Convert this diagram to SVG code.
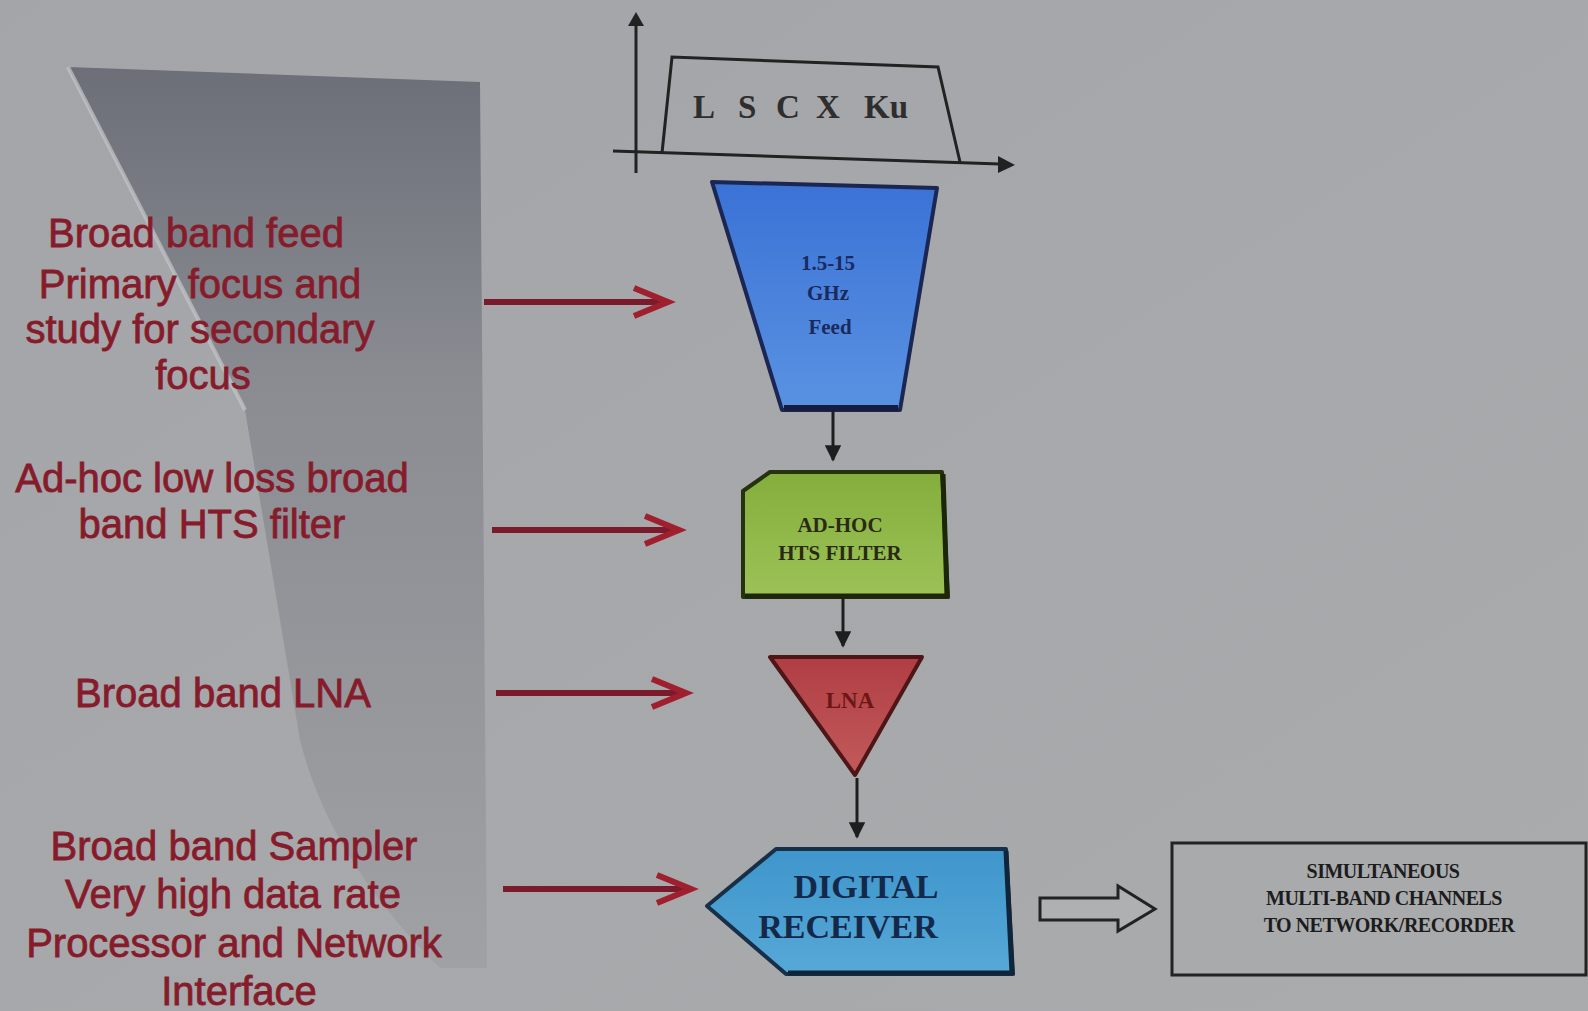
<svg xmlns="http://www.w3.org/2000/svg" width="1588" height="1011" viewBox="0 0 1588 1011">
<style>
.lbl{font-family:"Liberation Sans",Arial,sans-serif;font-size:40px;fill:#861c2b;stroke:#861c2b;stroke-width:0.8;text-anchor:middle}
.nt{font-family:"Liberation Serif","Times New Roman",serif;font-weight:bold;text-anchor:middle}
.ax{stroke:#222;stroke-width:3;fill:none}
.red{stroke:#7a1a2a;stroke-width:6;fill:none}
.redh{stroke:#a01f2e;stroke-width:6;fill:none;stroke-linejoin:miter}
.blk{stroke:#1e1e1e;stroke-width:3;fill:none}
</style>
<defs>
<linearGradient id="bg" x1="0" y1="0" x2="1" y2="1">
<stop offset="0" stop-color="#a4a5a8"/><stop offset="1" stop-color="#aaabad"/>
</linearGradient>
<linearGradient id="panel" x1="0" y1="0" x2="0" y2="1">
<stop offset="0" stop-color="#6c6f78"/><stop offset="0.35" stop-color="#8a8c92"/><stop offset="1" stop-color="#a0a1a4"/>
</linearGradient>
<linearGradient id="gFeed" x1="0" y1="0" x2="0" y2="1">
<stop offset="0" stop-color="#3a72d6"/><stop offset="1" stop-color="#5a92e2"/>
</linearGradient>
<linearGradient id="gFilt" x1="0" y1="0" x2="0" y2="1">
<stop offset="0" stop-color="#84ae3c"/><stop offset="1" stop-color="#9cc257"/>
</linearGradient>
<linearGradient id="gLna" x1="0" y1="0" x2="0" y2="1">
<stop offset="0" stop-color="#b03e44"/><stop offset="1" stop-color="#c25a5a"/>
</linearGradient>
<linearGradient id="gDr" x1="0" y1="0" x2="0" y2="1">
<stop offset="0" stop-color="#3f96cc"/><stop offset="1" stop-color="#56a8d6"/>
</linearGradient>
<marker id="ah" viewBox="0 0 10 10" refX="9" refY="5" markerWidth="5.5" markerHeight="5.5" orient="auto" markerUnits="strokeWidth">
<path d="M0,0 L10,5 L0,10 Z" fill="#1e1e1e"/>
</marker>
</defs>
<rect x="0" y="0" width="1588" height="1011" fill="url(#bg)"/>
<path d="M68,67 L480,82 L487,968 L440,968 Q330,860 300,740 L245,410 Z" fill="url(#panel)"/>
<path d="M68,67 L245,410" stroke="#c4c6c9" stroke-width="4" fill="none" opacity="0.7"/>

<g id="spectrum">
<path class="ax" d="M636,173 L636,24"/>
<path d="M628,26 L636,12 L644,26 Z" fill="#222"/>
<path class="ax" d="M613,151 L1000,164"/>
<path d="M998,156 L1015,165 L998,173 Z" fill="#222"/>
<path class="ax" d="M662,153 L672,57 L938,67 L960,162"/>
<text font-family="'Liberation Serif','Times New Roman',serif" font-weight="bold" font-size="33" fill="#2e2e2e" y="118"><tspan x="693">L</tspan><tspan x="738">S</tspan><tspan x="776">C</tspan><tspan x="816">X</tspan><tspan x="864">Ku</tspan></text>
</g>

<g id="feed">
<path d="M712,182 L937,188 L900,410 L782,410 Z" fill="url(#gFeed)" stroke="#1b2652" stroke-width="4" stroke-linejoin="round"/>
<path d="M784,408 L898,408" stroke="#141c40" stroke-width="6"/>
<text class="nt" font-size="21" fill="#1a2a5c"><tspan x="828" y="270">1.5-15</tspan><tspan x="828" y="300">GHz</tspan><tspan x="830" y="334">Feed</tspan></text>
</g>

<g id="filter">
<path d="M743,491 L770,472 L942,472 L948,597 L743,597 Z" fill="url(#gFilt)" stroke="#26320e" stroke-width="4" stroke-linejoin="round"/>
<path d="M745,596 L947,596 L943,474" stroke="#1c2608" stroke-width="5" fill="none"/>
<text class="nt" font-size="21" fill="#2a2a14"><tspan x="840" y="532">AD-HOC</tspan><tspan x="840" y="560">HTS FILTER</tspan></text>
</g>

<g id="lna">
<path d="M770,657 L922,657 L855,775 Z" fill="url(#gLna)" stroke="#4e1616" stroke-width="4" stroke-linejoin="round"/>
<text class="nt" font-size="23" fill="#6e1616" x="850" y="708">LNA</text>
</g>

<g id="receiver">
<path d="M707,906 L776,849 L1006,849 L1013,974 L786,974 Z" fill="url(#gDr)" stroke="#173048" stroke-width="4" stroke-linejoin="round"/>
<path d="M788,973 L1012,973 L1006,851" stroke="#10243a" stroke-width="5" fill="none"/>
<text class="nt" font-size="34" fill="#14284a"><tspan x="866" y="898">DIGITAL</tspan><tspan x="848" y="938">RECEIVER</tspan></text>
</g>

<g id="output">
<rect x="1172" y="843" width="414" height="132" fill="#a9aaac" stroke="#232323" stroke-width="3"/>
<text class="nt" font-size="20" fill="#1c1c1c" letter-spacing="-0.5"><tspan x="1383" y="878">SIMULTANEOUS</tspan><tspan x="1384" y="905">MULTI-BAND CHANNELS</tspan><tspan x="1389" y="932">TO NETWORK/RECORDER</tspan></text>
</g>

<g id="label-feed">
<text class="lbl"><tspan x="196" y="247">Broad band feed</tspan><tspan x="200" y="298">Primary focus and</tspan><tspan x="200" y="343">study for secondary</tspan><tspan x="203" y="389">focus</tspan></text>
</g>
<g id="label-filter">
<text class="lbl"><tspan x="212" y="492">Ad-hoc low loss broad</tspan><tspan x="212" y="538">band HTS filter</tspan></text>
</g>
<g id="label-lna">
<text class="lbl" x="223" y="707">Broad band LNA</text>
</g>
<g id="label-sampler">
<text class="lbl"><tspan x="234" y="860">Broad band Sampler</tspan><tspan x="233" y="908">Very high data rate</tspan><tspan x="234" y="957">Processor and Network</tspan><tspan x="239" y="1005">Interface</tspan></text>
</g>

<g id="connectors">
<path class="red" d="M484,302 L664,302"/>
<path class="redh" d="M634,288 L668,302 L634,316"/>
<path class="red" d="M492,530 L674,530"/>
<path class="redh" d="M645,516 L679,530 L645,544"/>
<path class="red" d="M496,693 L681,693"/>
<path class="redh" d="M652,679 L686,693 L652,707"/>
<path class="red" d="M503,889 L686,889"/>
<path class="redh" d="M657,875 L691,889 L657,903"/>
<path class="blk" d="M833,411 L833,460" marker-end="url(#ah)"/>
<path class="blk" d="M843,598 L843,646" marker-end="url(#ah)"/>
<path class="blk" d="M857,778 L857,837" marker-end="url(#ah)"/>
<path d="M1040,898 L1118,898 L1118,886 L1155,909 L1118,931 L1118,920 L1040,920 Z" fill="#afb0b2" stroke="#222" stroke-width="3" stroke-linejoin="miter"/>
</g>
</svg>
